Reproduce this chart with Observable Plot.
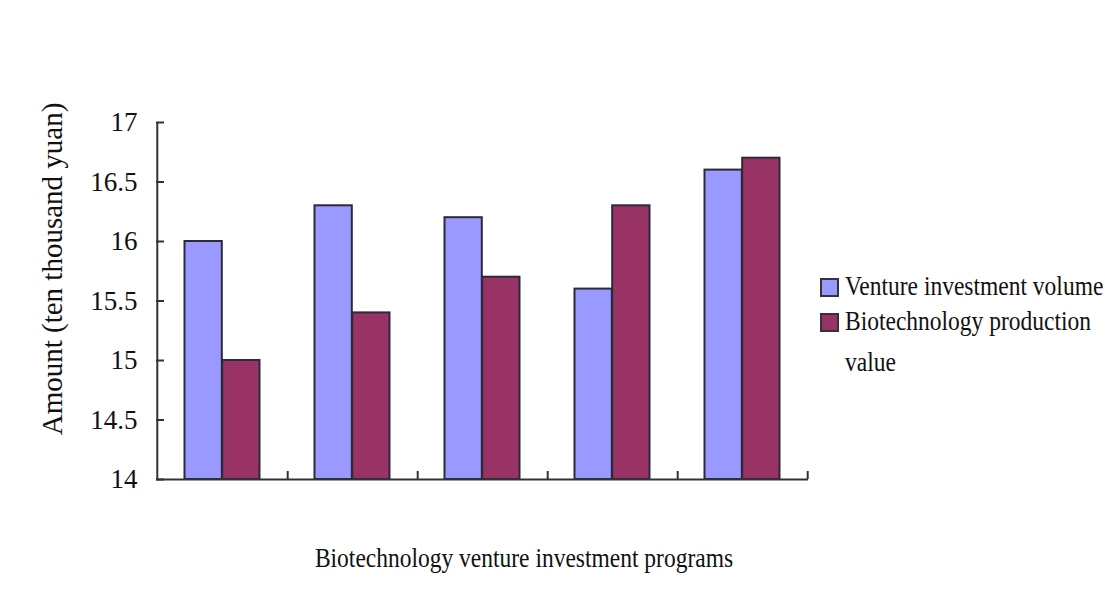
<!DOCTYPE html>
<html>
<head>
<meta charset="utf-8">
<script src="https://cdn.jsdelivr.net/npm/d3@7"></script>
<script src="https://cdn.jsdelivr.net/npm/@observablehq/plot@0.6"></script>
<style>
  body { margin: 0; background: #fff; }
  #wrap { position: relative; width: 1105px; height: 592px; font-family: "Liberation Serif", "Times New Roman", serif; color: #111; }
  #wrap svg { position: absolute; left: 0; top: 0; }
  #wrap svg text { font-family: "Liberation Serif", "Times New Roman", serif; }
  .lbl { position: absolute; white-space: nowrap; line-height: 1; }
  .sw { position: absolute; width: 15px; height: 15px; border: 2px solid #333; }
</style>
</head>
<body>
<div id="wrap"></div>
<script>
// Programs (category axis) and the two series, in ten thousand yuan
const programs = ["1", "2", "3", "4", "5"];
const ventureInvestment = [16.0, 16.3, 16.2, 15.6, 16.6];
const productionValue = [15.0, 15.4, 15.7, 16.3, 16.7];
const yTicks = [14, 14.5, 15, 15.5, 16, 16.5, 17];
const seriesNames = ["Venture investment volume", "Biotechnology production value"];
const seriesColors = ["#9999ff", "#993366"];

// Layout
const W = 1105, H = 592;
const mL = 156, mR = 297, mT = 122, mB = 113;
const plotW = W - mL - mR, plotH = H - mT - mB;
const bw = plotW / programs.length;       // width of one program band
const barW = 37.7;                         // width of one bar
const side = (bw - 2 * barW) / 2;          // empty space on each side of a bar pair
const axisColor = "#333";
const barStroke = "#2a2a3a";
const serif = "'Liberation Serif', 'Times New Roman', serif";

const rows = programs.map((p, i) => ({program: p, venture: ventureInvestment[i], production: productionValue[i]}));

const chart = Plot.plot({
  width: W,
  height: H,
  marginLeft: mL,
  marginRight: mR,
  marginTop: mT,
  marginBottom: mB,
  style: {fontFamily: serif, color: "#111", background: "transparent"},
  x: {domain: programs, padding: 0, axis: null},
  y: {domain: [14, 17], axis: null},
  marks: [
    // bars: venture investment (left) and production value (right)
    Plot.barY(rows, {x: "program", y1: 14, y2: "venture", fill: seriesColors[0], stroke: barStroke, strokeWidth: 2,
      insetLeft: side, insetRight: side + barW}),
    Plot.barY(rows, {x: "program", y1: 14, y2: "production", fill: seriesColors[1], stroke: barStroke, strokeWidth: 2,
      insetLeft: side + barW, insetRight: side}),
    // axis lines
    Plot.ruleY([14], {stroke: axisColor, strokeWidth: 2}),
    Plot.ruleX([programs[0]], {dx: -bw / 2, y1: 14, y2: 17, stroke: axisColor, strokeWidth: 2}),
    // inward y ticks
    Plot.ruleY(yTicks, {y: d => d, stroke: axisColor, strokeWidth: 2, insetRight: plotW - 8}),
    // inward x ticks at program boundaries
    Plot.ruleX(programs, {x: d => d, dx: bw / 2, stroke: axisColor, strokeWidth: 2, insetTop: plotH - 8}),
    // y tick labels
    Plot.axisY(yTicks, {tickSize: 0, tickPadding: 19, fontSize: 27, fontFamily: serif, label: null, tickFormat: d => String(d)}),
    // y title
    Plot.text(["Amount (ten thousand yuan)"], {frameAnchor: "left", textAnchor: "middle", dx: -104, dy: -32, rotate: -90,
      fontSize: 29, fontFamily: serif, fill: "#111"})
  ]
});

const wrap = document.getElementById("wrap");
wrap.appendChild(chart);

// x title
const xt = document.createElement("div");
xt.className = "lbl";
xt.textContent = "Biotechnology venture investment programs";
xt.style.fontSize = "27px";
xt.style.left = "524px";
xt.style.top = "545px";
xt.style.transform = "translateX(-50%) scaleX(0.87)";
wrap.appendChild(xt);

// legend
const legendRows = [
  {sw: 0, text: seriesNames[0], top: 273},
  {sw: 1, text: "Biotechnology production", top: 308},
  {sw: null, text: "value", top: 349}
];
legendRows.forEach(r => {
  if (r.sw !== null) {
    const s = document.createElement("div");
    s.className = "sw";
    s.style.background = seriesColors[r.sw];
    s.style.left = "820px";
    s.style.top = (r.top + 5) + "px";
    wrap.appendChild(s);
  }
  const t = document.createElement("div");
  t.className = "lbl";
  t.textContent = r.text;
  t.style.fontSize = "27px";
  t.style.left = "845px";
  t.style.top = r.top + "px";
  t.style.transformOrigin = "0 50%";
  t.style.transform = "scaleX(0.87)";
  wrap.appendChild(t);
});
</script>
</body>
</html>
